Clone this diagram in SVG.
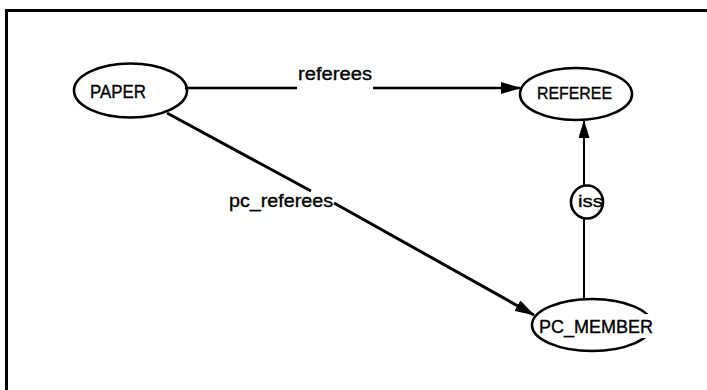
<svg xmlns="http://www.w3.org/2000/svg" width="707" height="390" viewBox="0 0 707 390">
  <style>
    .node { fill: none; stroke: #000; stroke-width: 2.6; }
    .lbl { font-family: "Liberation Sans", Arial, sans-serif; fill: #000; stroke: #000; stroke-width: 0.35; }
    .edge { fill: none; stroke: #000; }
  </style>
  <defs>
    <marker id="arrow" markerUnits="userSpaceOnUse" markerWidth="20" markerHeight="12" refX="19" refY="6" orient="auto">
      <path d="M0,0 L20,6 L0,12 z" fill="#000"/>
    </marker>
    <marker id="arrowSmall" markerUnits="userSpaceOnUse" markerWidth="18" markerHeight="11" refX="17" refY="5.5" orient="auto">
      <path d="M0,0 L18,5.5 L0,11 z" fill="#000"/>
    </marker>
  </defs>

  <rect width="707" height="390" fill="#fff"/>

  <!-- frame -->
  <path d="M6.5,390 L6.5,10.5 L707,10.5" fill="none" stroke="#000" stroke-width="3"/>

  <!-- connectors -->
  <g id="connectors">
    <!-- referees: PAPER -> REFEREE -->
    <line class="edge" x1="185" y1="88" x2="297" y2="88" stroke-width="2.4"/>
    <line class="edge" x1="373" y1="88" x2="520" y2="88" stroke-width="2.4" marker-end="url(#arrow)"/>
    <text class="lbl" x="298" y="80" font-size="18" textLength="74" lengthAdjust="spacingAndGlyphs">referees</text>

    <!-- pc_referees: PAPER -> PC_MEMBER -->
    <line class="edge" x1="167" y1="113" x2="311" y2="191" stroke-width="3"/>
    <line class="edge" x1="334" y1="203" x2="534" y2="315" stroke-width="3" marker-end="url(#arrow)"/>
    <text class="lbl" x="229" y="207" font-size="18" textLength="104" lengthAdjust="spacingAndGlyphs">pc_referees</text>

    <!-- iss: PC_MEMBER -> REFEREE -->
    <line class="edge" x1="584" y1="299" x2="584" y2="218" stroke-width="2"/>
    <line class="edge" x1="584" y1="186" x2="584" y2="121" stroke-width="2" marker-end="url(#arrowSmall)"/>
    <g id="iss">
      <ellipse class="node" cx="587" cy="202" rx="16" ry="16.5"/>
      <text class="lbl" x="578" y="207" font-size="16" textLength="25" lengthAdjust="spacingAndGlyphs">iss</text>
    </g>
  </g>

  <!-- nodes -->
  <g id="paper">
    <ellipse class="node" cx="130.5" cy="90.5" rx="56.5" ry="27"/>
    <text class="lbl" x="90" y="98" font-size="18" textLength="56" lengthAdjust="spacingAndGlyphs">PAPER</text>
  </g>

  <g id="referee">
    <ellipse class="node" cx="576" cy="94" rx="56" ry="26"/>
    <text class="lbl" x="537" y="99" font-size="17" textLength="75" lengthAdjust="spacingAndGlyphs">REFEREE</text>
  </g>

  <g id="pc_member">
    <ellipse class="node" cx="592" cy="325" rx="60" ry="26"/>
    <rect x="604" y="314" width="56" height="24" fill="#fff"/>
    <text class="lbl" x="539" y="333" font-size="18" textLength="114" lengthAdjust="spacingAndGlyphs">PC_MEMBER</text>
  </g>
</svg>
